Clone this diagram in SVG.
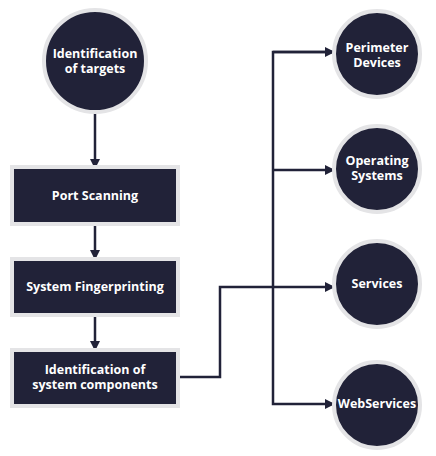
<svg xmlns="http://www.w3.org/2000/svg" width="436" height="456" viewBox="0 0 436 456">
<defs>
<style>
.n{fill:#212238;stroke:#e4e4e6;stroke-width:4}
.t{fill:#ffffff;font-family:"Open Sans","DejaVu Sans",sans-serif;font-weight:bold;font-size:12.5px;text-anchor:middle}
.c{fill:none;stroke:#212238;stroke-width:2.5}
</style>
<marker id="a" viewBox="0 0 10 10" refX="9" refY="5" markerWidth="10" markerHeight="10" markerUnits="userSpaceOnUse" orient="auto">
<path d="M0,0 L10,5 L0,10 z" fill="#212238"/>
</marker>
</defs>
<rect width="436" height="456" fill="#ffffff"/>
<g id="connectors">
<path class="c" d="M95,112 V168" marker-end="url(#a)"/>
<path class="c" d="M95,225 V259" marker-end="url(#a)"/>
<path class="c" d="M95,315 V350" marker-end="url(#a)"/>
<path class="c" d="M179,377 H220 V287 H334" marker-end="url(#a)"/>
<path class="c" d="M334,52 H273 V404 H334" marker-end="url(#a)"/>
<path class="c" d="M273,52 H334" marker-end="url(#a)"/>
<path class="c" d="M273,170 H334" marker-end="url(#a)"/>
</g>
<g id="n1"><circle class="n" cx="95" cy="61" r="51"/><text class="t" x="95" y="58">Identification</text><text class="t" x="95" y="73">of targets</text></g>
<g id="n2"><rect class="n" x="12" y="167" width="166" height="57"/><text class="t" x="95" y="200">Port Scanning</text></g>
<g id="n3"><rect class="n" x="12" y="259" width="166" height="56"/><text class="t" x="95" y="291">System Fingerprinting</text></g>
<g id="n4"><rect class="n" x="12" y="350" width="166" height="56"/><text class="t" x="95" y="374">Identification of</text><text class="t" x="95" y="389">system components</text></g>
<g id="n5"><circle class="n" cx="377" cy="54" r="43"/><text class="t" x="377" y="52">Perimeter</text><text class="t" x="377" y="67">Devices</text></g>
<g id="n6"><circle class="n" cx="377" cy="169" r="43"/><text class="t" x="377" y="165">Operating</text><text class="t" x="377" y="180">Systems</text></g>
<g id="n7"><circle class="n" cx="377" cy="284" r="43"/><text class="t" x="377" y="288">Services</text></g>
<g id="n8"><circle class="n" cx="377" cy="405" r="43"/><text class="t" x="377" y="408">WebServices</text></g>
</svg>
